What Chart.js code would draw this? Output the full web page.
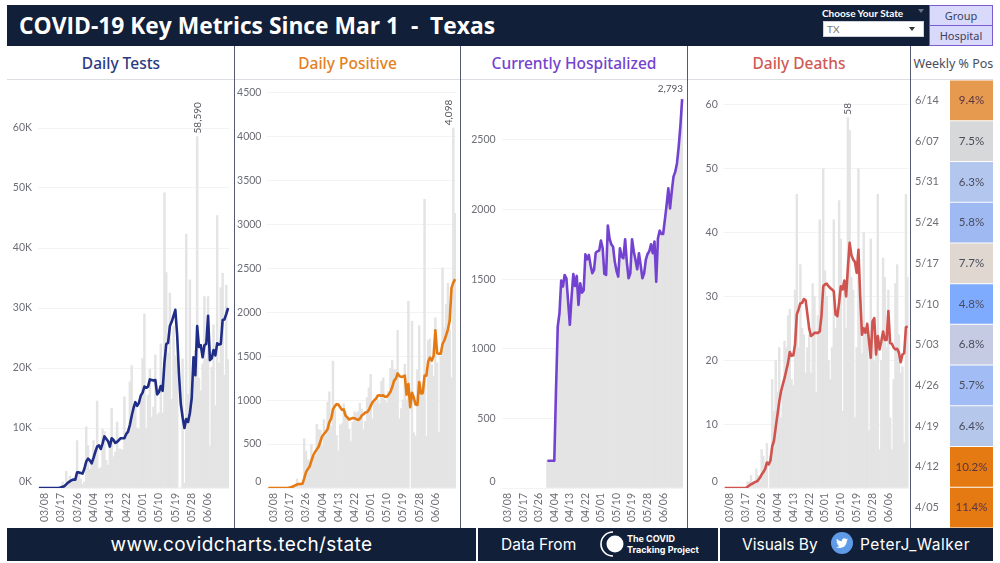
<!DOCTYPE html>
<html>
<head>
<meta charset="utf-8">
<script src="https://cdn.jsdelivr.net/npm/chart.js@4"></script>
<style>
  html, body { margin: 0; padding: 0; background: #fff; }
  body { width: 1000px; height: 563px; position: relative; overflow: hidden; font-family: 'Open Sans', sans-serif; }
  .abs { position: absolute; }
  .dark { background: #121f38; }
  canvas { position: absolute; top: 80px; }
  .head { position: absolute; top: 46px; height: 33px; line-height: 35px; text-align: center; font-size: 15.5px; font-weight: 500; font-family: 'Noto Sans', sans-serif; white-space: nowrap; }
  .vline { position: absolute; top: 46px; height: 482px; width: 1px; background: #555a70; }
  .foot { position: absolute; top: 528px; height: 33px; line-height: 33px; color: #fff; font-family: 'Inter', sans-serif; white-space: pre; }
  .btn { position: absolute; left: 929px; width: 64px; background: #d9d9fb; border: 1px solid #7a5bd0; box-sizing: border-box; color: #3b4160; font: 11px 'Noto Sans', sans-serif; text-align: center; }
</style>
</head>
<body>
<div class="abs dark" style="left:7px;top:5px;width:922px;height:41px"></div>
<div class="abs" style="left:19px;top:5px;height:41px;color:#fff;font:700 22.8px/42px 'Open Sans',sans-serif;white-space:pre">COVID-19 Key Metrics Since Mar 1  -  Texas</div>
<div class="abs" style="left:822px;top:7px;color:#fff;font:700 10px/13px 'Lato',sans-serif">Choose Your State</div>
<div class="abs" style="left:918px;top:9px;width:0;height:0;border:3px solid transparent;border-top:4px solid #6b7285"></div>
<div class="abs" style="left:823px;top:21px;width:101px;height:16px;background:#fff;border:1px solid #cfd2da;box-sizing:border-box;color:#777;font:10px/14px 'Lato',sans-serif;padding-left:3px">TX</div>
<div class="abs" style="left:909px;top:27px;width:0;height:0;border:3.5px solid transparent;border-top:4px solid #333"></div>
<div class="btn" style="top:5px;height:21px;line-height:20px">Group</div>
<div class="btn" style="top:25px;height:21px;line-height:20px">Hospital</div>

<div class="head" style="left:8px;width:226px;color:#2b3a7e">Daily Tests</div>
<div class="head" style="left:235px;width:225px;color:#e57f20">Daily Positive</div>
<div class="head" style="left:461px;width:226px;color:#7442d0">Currently Hospitalized</div>
<div class="head" style="left:688px;width:222px;color:#cf5a55">Daily Deaths</div>
<div class="head" style="left:911px;width:85px;color:#4a4d5c;font-size:12.5px;font-weight:400">Weekly % Pos</div>
<div class="abs" style="left:7px;top:79px;width:986px;height:1px;background:#dcdce2"></div>
<div class="vline" style="left:234px"></div>
<div class="vline" style="left:460px"></div>
<div class="vline" style="left:687px"></div>
<div class="vline" style="left:910px"></div>

<canvas id="tests" style="left:8px" width="226" height="447"></canvas>
<canvas id="positive" style="left:235px" width="225" height="447"></canvas>
<canvas id="hospital" style="left:461px" width="226" height="447"></canvas>
<canvas id="deaths" style="left:688px" width="222" height="447"></canvas>
<canvas id="weekly" style="left:911px" width="83" height="448"></canvas>

<div class="abs dark" style="left:7px;top:528px;width:469px;height:33px"></div>
<div class="abs dark" style="left:478px;top:528px;width:240px;height:33px"></div>
<div class="abs dark" style="left:720px;top:528px;width:273px;height:33px"></div>
<div class="foot" style="left:7px;width:469px;text-align:center;font-size:19px;letter-spacing:.4px">www.covidcharts.tech/state</div>
<div class="foot" style="left:501px;font-size:15.5px">Data From</div>
<svg class="abs" style="left:600px;top:530px" width="28" height="28" viewBox="0 0 28 28">
  <circle cx="15" cy="14" r="8.5" fill="#fff"/>
  <path d="M13 2 A12 12 0 0 0 13 26" fill="none" stroke="#fff" stroke-width="1.6"/>
</svg>
<div class="abs" style="left:627px;top:534px;color:#fff;font:700 9px/10.5px 'Inter',sans-serif">The COVID<br>Tracking Project</div>
<div class="foot" style="left:742px;font-size:15.5px">Visuals By</div>
<svg class="abs" style="left:831px;top:532px" width="22" height="22" viewBox="0 0 22 22">
  <circle cx="11" cy="11" r="11" fill="#5e9ae8"/>
  <g transform="translate(5 5.2) scale(.5)"><path fill="#fff" d="M23.953 4.57a10 10 0 01-2.825.775 4.958 4.958 0 002.163-2.723c-.951.555-2.005.959-3.127 1.184a4.92 4.92 0 00-8.384 4.482C7.69 8.095 4.067 6.13 1.64 3.162a4.822 4.822 0 00-.666 2.475c0 1.71.87 3.213 2.188 4.096a4.904 4.904 0 01-2.228-.616v.06a4.923 4.923 0 003.946 4.827 4.996 4.996 0 01-2.212.085 4.936 4.936 0 004.604 3.417 9.867 9.867 0 01-6.102 2.105c-.39 0-.779-.023-1.17-.067a13.995 13.995 0 007.557 2.209c9.053 0 13.998-7.496 13.998-13.985 0-.21 0-.42-.015-.63A9.935 9.935 0 0024 4.59z"/></g>
</svg>
<div class="foot" style="left:860px;font-size:15.5px;letter-spacing:.55px">PeterJ_Walker</div>

<script>
const days = [
  '03/05','03/06','03/07','03/08','03/09','03/10','03/11','03/12','03/13','03/14','03/15','03/16','03/17','03/18','03/19',
  '03/20','03/21','03/22','03/23','03/24','03/25','03/26','03/27','03/28','03/29','03/30','03/31',
  '04/01','04/02','04/03','04/04','04/05','04/06','04/07','04/08','04/09','04/10','04/11','04/12','04/13','04/14','04/15',
  '04/16','04/17','04/18','04/19','04/20','04/21','04/22','04/23','04/24','04/25','04/26','04/27','04/28','04/29','04/30',
  '05/01','05/02','05/03','05/04','05/05','05/06','05/07','05/08','05/09','05/10','05/11','05/12','05/13','05/14','05/15',
  '05/16','05/17','05/18','05/19','05/20','05/21','05/22','05/23','05/24','05/25','05/26','05/27','05/28','05/29','05/30','05/31',
  '06/01','06/02','06/03','06/04','06/05','06/06','06/07','06/08','06/09','06/10','06/11','06/12','06/13','06/14','06/15','06/16','06/17'
]
const tickDates = ['03/08','03/17','03/26','04/04','04/13','04/22','05/01','05/10','05/19','05/28','06/06']
const testsTicks = [0,10000,20000,30000,40000,50000,60000]
const positiveTicks = [0,500,1000,1500,2000,2500,3000,3500,4000,4500]
const hospitalTicks = [0,500,1000,1500,2000,2500]
const deathsTicks = [0,10,20,30,40,50,60]

const testsDaily = [
  0,0,0,0,0,0,0,0,0,0,
  0,0,300,1000,600,2800,800,2000,1200,1500,
  1400,7900,2400,1500,600,1000,10200,7100,3100,4000,
  7900,6000,14500,3200,3400,9800,9400,4600,3800,7000,
  13300,5200,6000,11000,6500,6500,6300,15200,8400,9200,
  17700,20400,12200,14000,10000,9800,14600,21600,29000,10000,
  15500,19800,11800,13500,22200,12200,12500,24000,12500,49200,
  35900,22500,32500,14800,27000,22000,21500,0,0,21500,
  800,42300,15600,34700,15000,22000,23000,58590,18300,16200,
  20700,31900,21500,31900,7000,20100,27200,13700,45400,20800,
  33400,35800,18800,33800,21400
]
const testsAvg = [
  0,0,0,0,0,0,0,0,0,0,
  0,0,100,200,300,600,900,1100,1300,1400,
  1400,2600,2600,2500,2400,3200,4400,4900,4600,4100,
  5000,6000,6900,7100,6500,7400,8600,8200,7800,6900,
  8300,8000,7500,7700,8000,8300,8300,8300,9000,9400,
  10500,12000,13300,14300,13700,14200,15400,15900,16900,16700,
  16900,18100,18000,17900,18000,15600,16000,17000,16200,20800,
  24000,24200,27000,27700,28700,29700,25500,19000,14000,11800,
  10000,11500,11000,12500,15000,21800,18800,27000,23500,23800,
  21800,23800,24000,28700,21300,21600,23000,22100,24100,23900,
  24000,28000,28100,29000,30000
]
const positiveDaily = [
  0,0,0,0,0,0,0,0,0,0,
  0,0,0,20,30,40,105,30,50,60,
  560,420,325,310,495,360,360,725,665,660,
  480,780,590,980,1095,700,1445,890,600,420,
  720,735,960,875,790,670,530,750,870,855,
  870,965,900,665,760,1030,1140,1295,790,970,
  980,1000,960,1215,1255,1000,970,1100,1360,1450,
  1350,1350,1797,790,905,1000,1410,1000,2125,0,
  1900,627,590,1350,1850,1083,1200,3287,590,1683,
  1700,1400,1270,1938,1425,635,1500,2508,1824,2090,
  2330,1800,1254,4098,3127
]
const positiveAvg = [
  0,0,0,0,0,0,0,0,0,0,
  0,0,5,10,20,30,40,45,45,48,
  110,180,215,245,310,370,410,440,470,530,
  590,615,640,670,750,790,895,930,955,950,
  920,890,895,825,805,780,790,798,795,785,
  775,790,825,840,860,863,890,935,975,1000,
  1020,1053,1055,1050,1055,1040,1040,1065,1095,1150,
  1220,1245,1305,1275,1265,1270,1280,1064,1185,920,
  1085,1030,950,945,1208,1078,1080,1280,1280,1440,
  1485,1450,1500,1797,1535,1530,1530,1640,1680,1740,
  1805,1910,2280,2340,2380
]
const hospitalized = [
  null,null,null,null,null,null,null,null,null,null,
  null,null,null,null,null,null,null,null,null,null,
  null,null,null,null,null,null,196,196,196,196,
  196,705,1160,1255,1490,1447,1530,1506,1340,1172,
  1370,1537,1451,1523,1315,1470,1403,1418,1678,1642,
  1674,1600,1542,1566,1690,1700,1705,1777,1722,1537,
  1530,1884,1790,1750,1733,1626,1560,1518,1722,1662,
  1650,1786,1620,1506,1542,1786,1700,1638,1571,1686,
  1600,1506,1542,1640,1681,1700,1750,1686,1770,1482,
  1793,1848,1824,1824,1925,2030,2152,2008,2130,2236,
  2270,2331,2450,2600,2793
]
const deathsDaily = [
  0,0,0,0,0,0,0,0,0,0,
  0,0,0,1,1,2,1,1,3,2,
  1,6,5,3,7,0,5,17,12,20,
  15,22,11,15,23,22,27,28,17,16,
  31,46,22,35,25,24,18,22,24,18,
  32,30,15,27,42,25,50,34,30,20,
  17,22,42,25,28,45,39,12,31,25,
  58,56,33,31,11,22,50,30,21,40,
  24,26,9,39,24,20,21,46,6,20,
  36,33,22,31,11,6,17,32,35,24,
  18,19,7,46,33
]
const deathsAvg = [
  0,0,0,0,0,0,0,0,0,0,
  0,0,0,.2,.4,.6,.7,.9,1,1.2,
  1.6,2.1,2.5,3,4,3.7,4.3,6.5,7.4,9.5,
  11.5,13.5,15.1,16.2,17.2,18.4,19.6,21.3,20.7,20.8,
  22.5,27.2,28,28.9,29,29.6,29.4,27.2,25,23.8,
  24,24.3,24.3,24.3,24.5,27,31.6,31.9,32,31.6,
  31.3,31.1,30.8,27.2,26.9,29,31.6,31.1,32.5,30,
  34.5,38.4,36.5,35.8,35.4,33.7,37.3,30,24,25,
  24.3,25.7,23,20.4,26.1,26.6,20.9,23.8,21.7,23,
  24.5,23.2,23.2,27.7,22.7,22.6,22,21.7,21.8,21.2,
  19.7,20.9,21.1,25.2,25.3
]
const weeks = ['6/14','6/07','5/31','5/24','5/17','5/10','5/03','4/26','4/19','4/12','4/05']
const weeklyPct = [9.4,7.5,6.3,5.8,7.7,4.8,6.8,5.7,6.4,10.2,11.4]
const weeklyColors = ['#e59a50','#d7d8da','#b2c6ee','#9fb9f3','#e0d8d0','#7fabff','#c5cbe2','#a2bdf5','#b5c7ea','#e57a12','#e57a12']

const gridColor = '#f3f3f3'
const tickColor = '#6d6e76'
const axisFont = { family: 'Lato', size: 10.5 }

Chart.defaults.animation = false
Chart.defaults.responsive = false
Chart.defaults.font.family = 'Lato'
Chart.defaults.plugins.legend.display = false
Chart.defaults.plugins.tooltip.enabled = false

// peak value label on top of the tallest bar
const peakLabel = {
  id: 'peakLabel',
  afterDatasetsDraw(chart, args, opts) {
    const bars = chart.getDatasetMeta(1).data
    const values = chart.data.datasets[1].data
    const i = values.indexOf(Math.max(...values))
    const { ctx } = chart
    ctx.save()
    ctx.fillStyle = '#55565e'
    ctx.font = '10px Lato'
    ctx.translate(bars[i].x + (opts.dx || 0), bars[i].y - 3)
    if (opts.flat) {
      ctx.textAlign = 'right'
      ctx.textBaseline = 'bottom'
    } else {
      ctx.rotate(-Math.PI / 2)
      ctx.textAlign = 'left'
      ctx.textBaseline = 'middle'
    }
    ctx.fillText(values[i].toLocaleString('en-US'), 0, opts.flat ? -2 : 0)
    ctx.restore()
  }
}

function drawPanel(id, cfg) {
  new Chart(document.getElementById(id), {
    data: {
      labels: days,
      datasets: [
        { type: 'line', data: cfg.line, borderColor: cfg.color, borderWidth: 2.6, pointRadius: 0, tension: 0, borderJoinStyle: 'round', order: 0 },
        { type: 'bar', data: cfg.bars, backgroundColor: '#e4e4e4', barPercentage: 1, categoryPercentage: 1, order: 1 }
      ]
    },
    options: {
      layout: { padding: { right: cfg.padRight } },
      plugins: { peakLabel: { flat: cfg.flatPeak, dx: cfg.peakDx } },
      scales: {
        x: {
          grid: { display: false, drawTicks: false }, border: { display: false },
          afterFit(s) { s.height = 39; s.paddingLeft = 0; s.paddingRight = 0 },
          ticks: {
            autoSkip: false, minRotation: 90, maxRotation: 90, padding: 5, color: tickColor, font: axisFont,
            callback(v) { const d = this.getLabelForValue(v); return tickDates.includes(d) ? d : '' }
          }
        },
        y: {
          min: 0, max: cfg.max,
          grid: { color: gridColor, drawTicks: false }, border: { display: false },
          afterBuildTicks(s) { s.ticks = cfg.ticks.map(value => ({ value })) },
          afterFit(s) { s.width = cfg.axisWidth; s.paddingTop = 0; s.paddingBottom = 0 },
          ticks: {
            padding: 6, color: tickColor, font: axisFont,
            callback(v) { const t = cfg.fmt ? cfg.fmt(v) : String(v); return v === 0 ? [t, ''] : t }
          }
        }
      }
    },
    plugins: [peakLabel]
  })
}

drawPanel('tests', { line: testsAvg, bars: testsDaily, color: '#1f2d86', max: 68000, ticks: testsTicks, fmt: v => (v / 1000) + 'K', axisWidth: 30, padRight: 5, peakDx: 1 })
drawPanel('positive', { line: positiveAvg, bars: positiveDaily, color: '#e57a12', max: 4647, ticks: positiveTicks, axisWidth: 32.4, padRight: 4, peakDx: -5 })
drawPanel('hospital', { line: hospitalized, bars: hospitalized, color: '#7442d0', max: 2930, ticks: hospitalTicks, axisWidth: 40.6, padRight: 4, flatPeak: true, peakDx: 1 })
drawPanel('deaths', { line: deathsAvg, bars: deathsDaily, color: '#cf5450', max: 63.9, ticks: deathsTicks, axisWidth: 35.8, padRight: 1.4 })

const cellText = {
  id: 'cellText',
  afterDatasetsDraw(chart) {
    const { ctx } = chart
    ctx.save()
    ctx.font = '11.5px Lato'
    ctx.textAlign = 'center'
    ctx.textBaseline = 'middle'
    chart.getDatasetMeta(0).data.forEach((bar, i) => {
      ctx.fillStyle = weeklyPct[i] >= 9 ? '#5a3340' : '#4a4c5c'
      ctx.fillText(weeklyPct[i].toFixed(1) + '%', (chart.chartArea.left + chart.chartArea.right) / 2, bar.y)
    })
    ctx.restore()
  }
}

// x stops at 1 so every week fills its cell; colour carries the value
new Chart(document.getElementById('weekly'), {
  type: 'bar',
  data: {
    labels: weeks,
    datasets: [{ data: weeklyPct, backgroundColor: weeklyColors, barPercentage: 1, categoryPercentage: .975 }]
  },
  options: {
    indexAxis: 'y',
    layout: { padding: { right: 1 } },
    scales: {
      x: { display: false, min: 0, max: 1 },
      y: {
        grid: { display: false, drawTicks: false }, border: { display: false },
        afterFit(s) { s.width = 39; s.paddingTop = 0; s.paddingBottom = 0 },
        ticks: { color: tickColor, font: { family: 'Lato', size: 11 }, padding: 11 }
      }
    }
  },
  plugins: [cellText]
})
</script>
</body>
</html>
